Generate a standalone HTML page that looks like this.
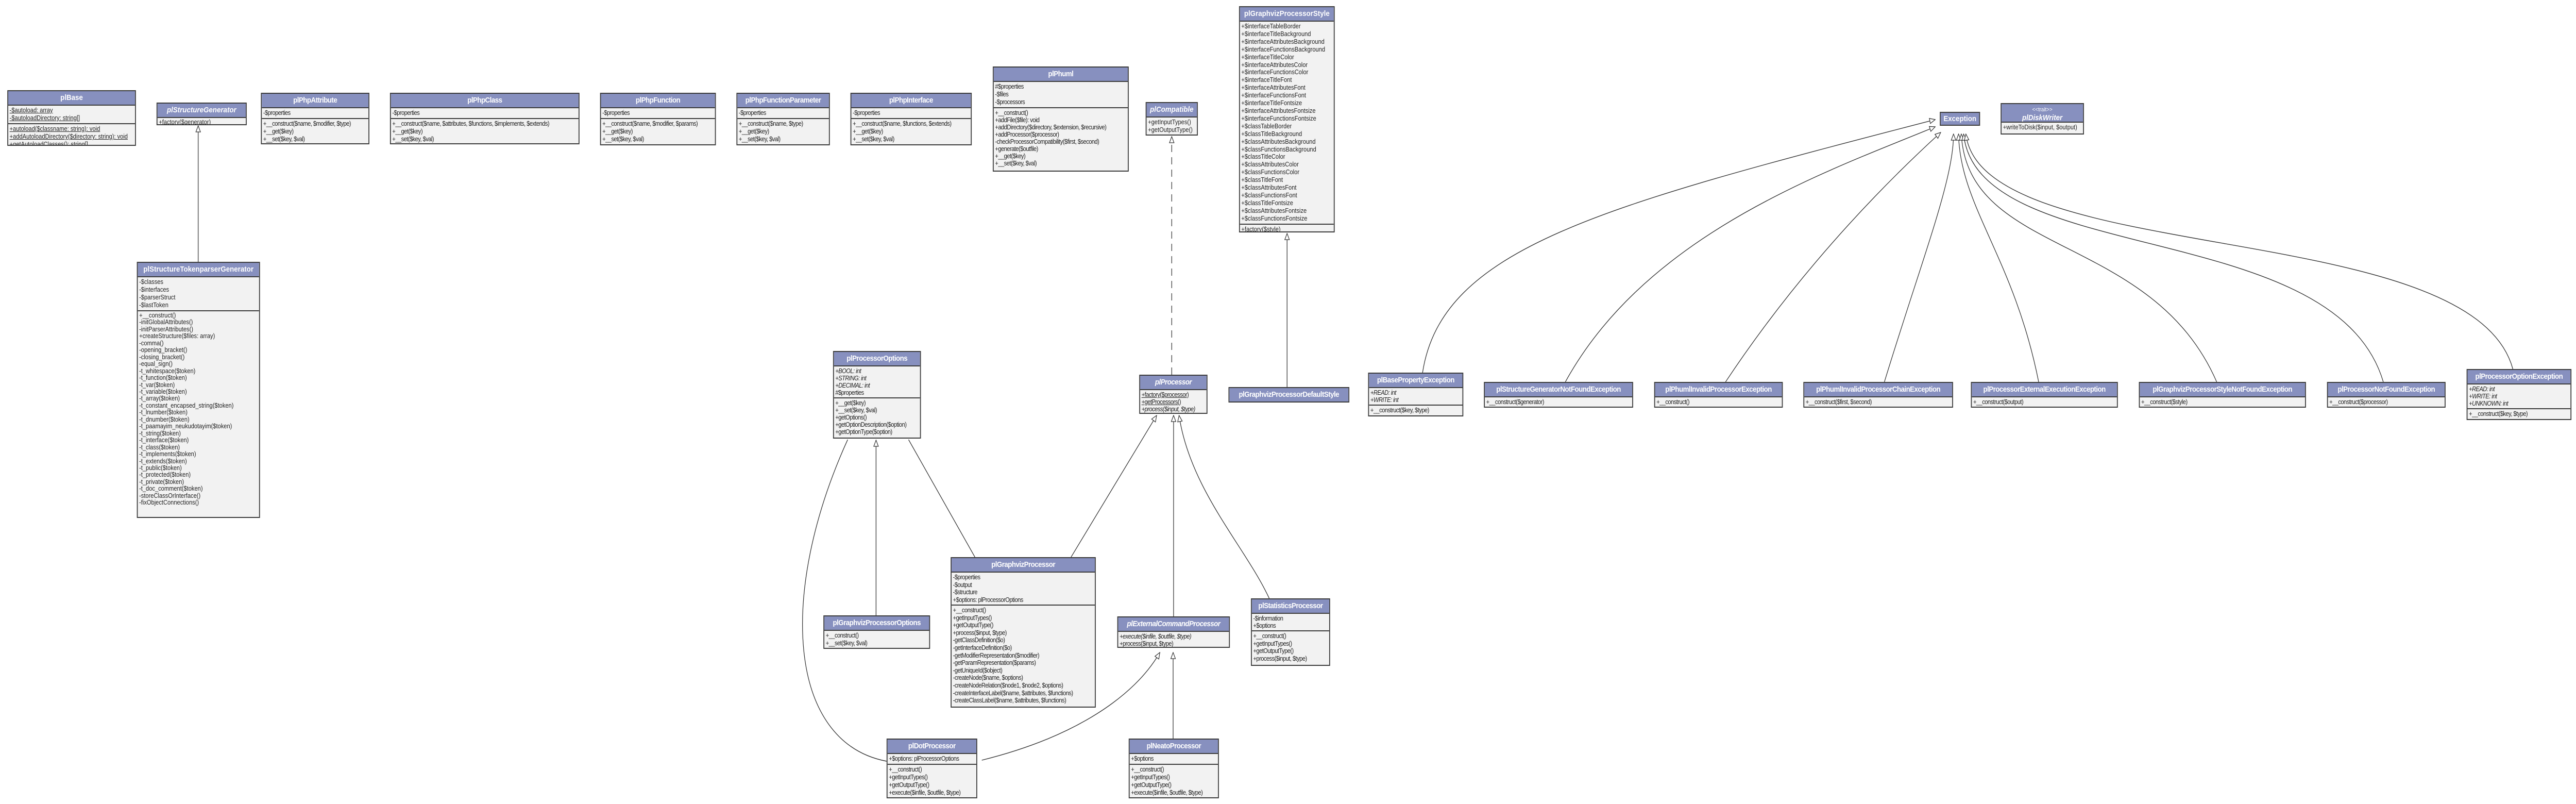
<!DOCTYPE html>
<html><head><meta charset="utf-8">
<style>
html,body{margin:0;padding:0;background:#fff;overflow:hidden;width:100%;height:100%;}
#root{position:fixed;left:0;top:0;width:100vw;height:100vh;display:block;}
.w{position:relative;width:5628px;height:1560px;font-family:"Liberation Sans",sans-serif;}
.b{position:absolute;border:2px solid #3c3c3c;background:#f2f2f2;box-sizing:border-box;font-size:12.5px;color:#222;overflow:hidden;}
.h{background:#8790bf;color:#fff;font-weight:bold;text-align:center;height:26px;line-height:26px;font-size:15px;border-bottom:2px solid #3c3c3c;white-space:nowrap;overflow:hidden;}
.i{font-style:italic;}
.s{padding:2px 3px;line-height:15px;border-bottom:2px solid #3c3c3c;white-space:nowrap;overflow:hidden;}
.s:last-child{border-bottom:none;}
.u{text-decoration:underline;}
.c{letter-spacing:-0.6px;}
</style></head><body>
<svg id="root" viewBox="0 0 5628 1560" preserveAspectRatio="none" xmlns="http://www.w3.org/2000/svg">
<defs>
<marker id="a" viewBox="0 0 14 12" refX="13" refY="6" markerWidth="14" markerHeight="12" markerUnits="userSpaceOnUse" orient="auto">
<path d="M1,1 L13,6 L1,11 Z" fill="#fff" stroke="#333" stroke-width="1.3"/>
</marker>
</defs>
<rect x="0" y="0" width="5628" height="1560" fill="#fff"/>
<g fill="none" stroke="#333" stroke-width="1.4">
<path d="M433,508 L433,244" marker-end="url(#a)"/>
<path d="M2560,727 L2560,265" stroke-dasharray="14,10" marker-end="url(#a)"/>
<path d="M2812,751 L2812,453" marker-end="url(#a)"/>
<path d="M2340,1081 L2527,806" marker-end="url(#a)"/>
<path d="M2564,1196 L2564,806" marker-end="url(#a)"/>
<path d="M2773,1161 C2720,1060 2600,950 2576,806" marker-end="url(#a)"/>
<path d="M1914,1194 L1914,854" marker-end="url(#a)"/>
<path d="M1852,853 C1700,1150 1720,1440 1937,1477"/>
<path d="M1985,853 L2130,1081"/>
<path d="M2145,1475 C2350,1430 2480,1350 2534,1266" marker-end="url(#a)"/>
<path d="M2563,1433 L2563,1266" marker-end="url(#a)"/>
<path d="M3108,723 C3150,480 3500,400 4228,232" marker-end="url(#a)"/>
<path d="M3420,741 C3600,450 4000,330 4228,246" marker-end="url(#a)"/>
<path d="M3770,741 C3950,500 4150,330 4240,257" marker-end="url(#a)"/>
<path d="M4117,741 C4200,500 4268,350 4268,260" marker-end="url(#a)"/>
<path d="M4454,741 C4400,500 4282,400 4279,260" marker-end="url(#a)"/>
<path d="M4843,741 C4700,450 4300,500 4285,260" marker-end="url(#a)"/>
<path d="M5207,741 C5100,420 4320,520 4290,260" marker-end="url(#a)"/>
<path d="M5490,716 C5400,420 4330,520 4295,260" marker-end="url(#a)"/>
</g>
<foreignObject x="0" y="0" width="5628" height="1560">
<div xmlns="http://www.w3.org/1999/xhtml" class="w">

<div class="b" style="left:16px;top:175px;width:281px;height:108px;"><div class="h">plBase</div><div class="s u">-$autoload: array<br/>-$autoloadDirectory: string[]</div><div class="s u">+autoload($classname: string): void<br/>+addAutoloadDirectory($directory: string): void<br/>+getAutoloadClasses(): string[]</div></div>

<div class="b" style="left:342px;top:199px;width:197px;height:44px;"><div class="h i">plStructureGenerator</div><div class="s" style="line-height:13px"><span class="u">+factory($generator)</span><br/><span class="i">+createStructure($files: array)</span></div></div>

<div class="b c" style="left:570px;top:180px;width:237px;height:100px;"><div class="h">plPhpAttribute</div><div class="s">-$properties</div><div class="s">+__construct($name, $modifier, $type)<br/>+__get($key)<br/>+__set($key, $val)</div></div>

<div class="b c" style="left:852px;top:180px;width:414px;height:100px;"><div class="h">plPhpClass</div><div class="s">-$properties</div><div class="s">+__construct($name, $attributes, $functions, $implements, $extends)<br/>+__get($key)<br/>+__set($key, $val)</div></div>

<div class="b c" style="left:1311px;top:180px;width:253px;height:102px;"><div class="h">plPhpFunction</div><div class="s">-$properties</div><div class="s">+__construct($name, $modifier, $params)<br/>+__get($key)<br/>+__set($key, $val)</div></div>

<div class="b c" style="left:1609px;top:180px;width:204px;height:102px;"><div class="h">plPhpFunctionParameter</div><div class="s">-$properties</div><div class="s">+__construct($name, $type)<br/>+__get($key)<br/>+__set($key, $val)</div></div>

<div class="b c" style="left:1858px;top:180px;width:265px;height:102px;"><div class="h">plPhpInterface</div><div class="s">-$properties</div><div class="s">+__construct($name, $functions, $extends)<br/>+__get($key)<br/>+__set($key, $val)</div></div>

<div class="b c" style="left:2169px;top:129px;width:297px;height:204px;"><div class="h">plPhuml</div><div class="s">#$properties<br/>-$files<br/>-$processors</div><div class="s" style="line-height:14px">+__construct()<br/>+addFile($file): void<br/>+addDirectory($directory, $extension, $recursive)<br/>+addProcessor($processor)<br/>-checkProcessorCompatibility($first, $second)<br/>+generate($outfile)<br/>+__get($key)<br/>+__set($key, $val)</div></div>

<div class="b" style="left:2503px;top:198px;width:114px;height:65px;"><div class="h i">plCompatible</div><div class="s">+getInputTypes()<br/>+getOutputType()</div></div>

<div class="b" style="left:2707px;top:12px;width:209px;height:439px;"><div class="h">plGraphvizProcessorStyle</div><div class="s" style="line-height:14.9px">+$interfaceTableBorder<br/>+$interfaceTitleBackground<br/>+$interfaceAttributesBackground<br/>+$interfaceFunctionsBackground<br/>+$interfaceTitleColor<br/>+$interfaceAttributesColor<br/>+$interfaceFunctionsColor<br/>+$interfaceTitleFont<br/>+$interfaceAttributesFont<br/>+$interfaceFunctionsFont<br/>+$interfaceTitleFontsize<br/>+$interfaceAttributesFontsize<br/>+$interfaceFunctionsFontsize<br/>+$classTableBorder<br/>+$classTitleBackground<br/>+$classAttributesBackground<br/>+$classFunctionsBackground<br/>+$classTitleColor<br/>+$classAttributesColor<br/>+$classFunctionsColor<br/>+$classTitleFont<br/>+$classAttributesFont<br/>+$classFunctionsFont<br/>+$classTitleFontsize<br/>+$classAttributesFontsize<br/>+$classFunctionsFontsize</div><div class="s u">+factory($style)</div></div>

<div class="b" style="left:299px;top:508px;width:269px;height:497px;"><div class="h">plStructureTokenparserGenerator</div><div class="s" style="line-height:15px">-$classes<br/>-$interfaces<br/>-$parserStruct<br/>-$lastToken</div><div class="s" style="line-height:13.45px">+__construct()<br/>-initGlobalAttributes()<br/>-initParserAttributes()<br/>+createStructure($files: array)<br/>-comma()<br/>-opening_bracket()<br/>-closing_bracket()<br/>-equal_sign()<br/>-t_whitespace($token)<br/>-t_function($token)<br/>-t_var($token)<br/>-t_variable($token)<br/>-t_array($token)<br/>-t_constant_encapsed_string($token)<br/>-t_lnumber($token)<br/>-t_dnumber($token)<br/>-t_paamayim_neukudotayim($token)<br/>-t_string($token)<br/>-t_interface($token)<br/>-t_class($token)<br/>-t_implements($token)<br/>-t_extends($token)<br/>-t_public($token)<br/>-t_protected($token)<br/>-t_private($token)<br/>-t_doc_comment($token)<br/>-storeClassOrInterface()<br/>-fixObjectConnections()</div></div>

<div class="b c" style="left:1820px;top:681px;width:192px;height:170px;"><div class="h">plProcessorOptions</div><div class="s" style="line-height:14px"><span class="i">+BOOL: int</span><br/><span class="i">+STRING: int</span><br/><span class="i">+DECIMAL: int</span><br/>#$properties</div><div class="s" style="line-height:14px">+__get($key)<br/>+__set($key, $val)<br/>+getOptions()<br/>+getOptionDescription($option)<br/>+getOptionType($option)</div></div>

<div class="b c" style="left:2489px;top:727px;width:149px;height:76px;"><div class="h i">plProcessor</div><div class="s" style="line-height:14px"><span class="u">+factory($processor)</span><br/><span class="u">+getProcessors()</span><br/><span class="i">+process($input, $type)</span></div></div>

<div class="b c" style="left:2684px;top:751px;width:264px;height:30px;"><div class="h">plGraphvizProcessorDefaultStyle</div></div>

<div class="b" style="left:4238px;top:217px;width:88px;height:27px;"><div class="h" style="border-bottom:none;height:23px;line-height:23px">Exception</div></div>

<div class="b" style="left:4371px;top:200px;width:182px;height:61px;"><div class="h" style="height:36px;line-height:15px;padding-top:2px;box-sizing:border-box"><span style="font-weight:normal;font-size:11px">&lt;&lt;trait&gt;&gt;</span><br/><span class="i">plDiskWriter</span></div><div class="s">+writeToDisk($input, $output)</div></div>

<div class="b c" style="left:1799px;top:1194px;width:233px;height:65px;"><div class="h">plGraphvizProcessorOptions</div><div class="s">+__construct()<br/>+__set($key, $val)</div></div>

<div class="b c" style="left:2077px;top:1081px;width:317px;height:292px;"><div class="h">plGraphvizProcessor</div><div class="s" style="line-height:14.5px">-$properties<br/>-$output<br/>-$structure<br/>+$options: plProcessorOptions</div><div class="s" style="line-height:14.6px">+__construct()<br/>+getInputTypes()<br/>+getOutputType()<br/>+process($input, $type)<br/>-getClassDefinition($o)<br/>-getInterfaceDefinition($o)<br/>-getModifierRepresentation($modifier)<br/>-getParamRepresentation($params)<br/>-getUniqueId($object)<br/>-createNode($name, $options)<br/>-createNodeRelation($node1, $node2, $options)<br/>-createInterfaceLabel($name, $attributes, $functions)<br/>-createClassLabel($name, $attributes, $functions)</div></div>

<div class="b c" style="left:2441px;top:1196px;width:246px;height:61px;"><div class="h i">plExternalCommandProcessor</div><div class="s" style="line-height:14px"><span class="i">+execute($infile, $outfile, $type)</span><br/>+process($input, $type)</div></div>

<div class="b c" style="left:2733px;top:1161px;width:173px;height:131px;"><div class="h">plStatisticsProcessor</div><div class="s" style="line-height:14px">-$information<br/>+$options</div><div class="s" style="line-height:14.5px">+__construct()<br/>+getInputTypes()<br/>+getOutputType()<br/>+process($input, $type)</div></div>

<div class="b c" style="left:1937px;top:1433px;width:198px;height:116px;"><div class="h">plDotProcessor</div><div class="s">+$options: plProcessorOptions</div><div class="s">+__construct()<br/>+getInputTypes()<br/>+getOutputType()<br/>+execute($infile, $outfile, $type)</div></div>

<div class="b c" style="left:2466px;top:1433px;width:197px;height:116px;"><div class="h">plNeatoProcessor</div><div class="s">+$options</div><div class="s">+__construct()<br/>+getInputTypes()<br/>+getOutputType()<br/>+execute($infile, $outfile, $type)</div></div>

<div class="b c" style="left:2989px;top:723px;width:208px;height:85px;"><div class="h">plBasePropertyException</div><div class="s i" style="line-height:14px">+READ: int<br/>+WRITE: int</div><div class="s">+__construct($key, $type)</div></div>

<div class="b c" style="left:3242px;top:741px;width:326px;height:50px;"><div class="h">plStructureGeneratorNotFoundException</div><div class="s">+__construct($generator)</div></div>

<div class="b c" style="left:3614px;top:741px;width:281px;height:50px;"><div class="h">plPhumlInvalidProcessorException</div><div class="s">+__construct()</div></div>

<div class="b c" style="left:3940px;top:741px;width:327px;height:50px;"><div class="h">plPhumlInvalidProcessorChainException</div><div class="s">+__construct($first, $second)</div></div>

<div class="b c" style="left:4306px;top:741px;width:321px;height:50px;"><div class="h">plProcessorExternalExecutionException</div><div class="s">+__construct($output)</div></div>

<div class="b c" style="left:4673px;top:741px;width:365px;height:50px;"><div class="h">plGraphvizProcessorStyleNotFoundException</div><div class="s">+__construct($style)</div></div>

<div class="b c" style="left:5084px;top:741px;width:259px;height:50px;"><div class="h">plProcessorNotFoundException</div><div class="s">+__construct($processor)</div></div>

<div class="b c" style="left:5389px;top:716px;width:229px;height:99px;"><div class="h">plProcessorOptionException</div><div class="s i" style="line-height:14px">+READ: int<br/>+WRITE: int<br/>+UNKNOWN: int</div><div class="s">+__construct($key, $type)</div></div>

</div>
</foreignObject>
</svg>
</body></html>
